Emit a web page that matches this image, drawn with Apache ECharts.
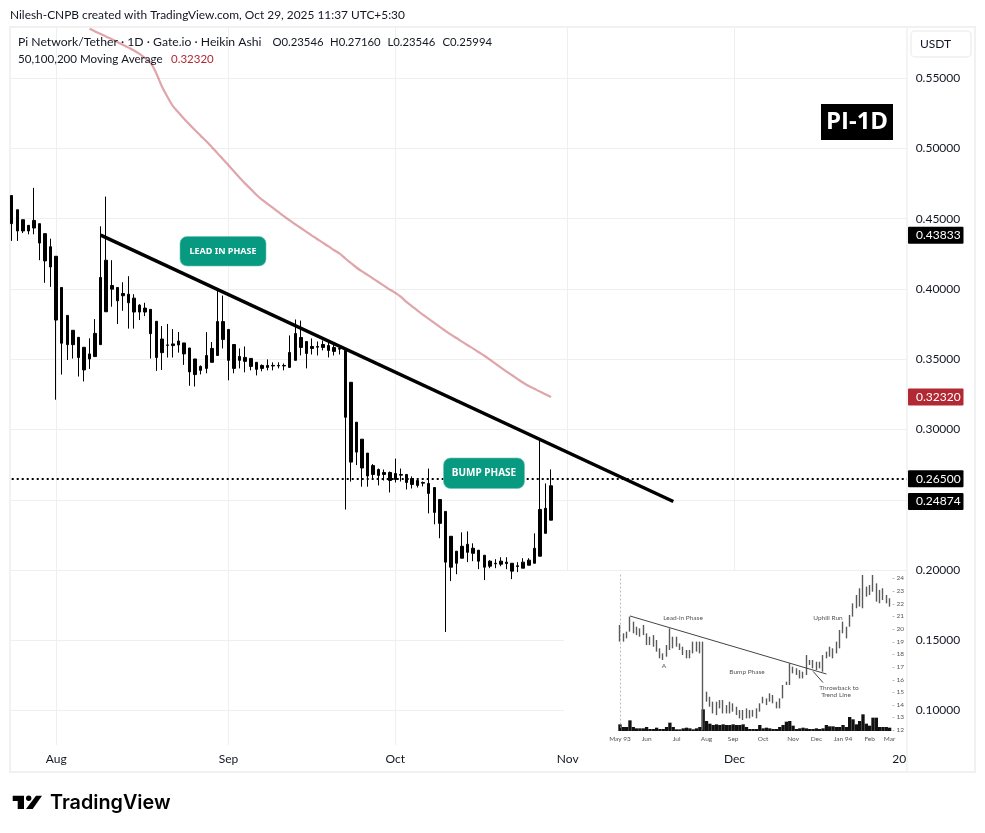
<html>
<head>
    <title></title>
    <meta charset="utf-8">
    <script src="https://cdn.jsdelivr.net/npm/echarts@6/dist/echarts.min.js" type="text/javascript"></script>
    <style>
        body { margin: 0; background: #fff; }
    </style>
</head>
<body>
    <div id="main" style="width: 985px; height: 833px"></div>
    <script>
        // daily Heikin Ashi candles, Jul 24 to Oct 29
        var candleOpen = [
            .4665, .4564, .4493, .4453, .4488, .4465, .4394, .4301, .4233, .4011,
            .3812, .3706, .3656, .3585, .3538, .3684, .4082, .4205, .4025, .4011,
            .3968, .3963, .3935, .3885, .3864, .3855, .3770, .3644, .3602, .3609,
            .3630, .3616, .3580, .3502, .3449, .3527, .3577, .3768, .3768, .3712,
            .3605, .3520, .3513, .3506, .3478, .3456, .3456, .3456, .3456, .3456,
            .3548, .3683, .3655, .3626, .3591, .3591, .3605, .3598, .3584, .3577,
            .3563, .3336, .3052, .2931, .2832, .2743, .2715, .2694, .2694, .2687,
            .2680, .2680, .2651, .2637, .2623, .2616, .2587, .2502, .2417, .2240,
            .2134, .2169, .2183, .2155, .2141, .2105, .2063, .2048, .2063, .2056,
            .2048, .2030, .2056, .2070, .2155, .2431, .2439, .23546
        ];
        var candleClose = [
            .4465, .4413, .4413, .4413, .4434, .4327, .4200, .4157, .3779, .3614,
            .3604, .3604, .3512, .3424, .3502, .3519, .3604, .3838, .3999, .3916,
            .3952, .3902, .3836, .3836, .3836, .3682, .3512, .3547, .3599, .3597,
            .3602, .3538, .3410, .3391, .3421, .3435, .3478, .3527, .3641, .3492,
            .3435, .3492, .3485, .3449, .3428, .3435, .3442, .3452, .3452, .3452,
            .3442, .3492, .3584, .3541, .3577, .3586, .3584, .3563, .3556, .3572,
            .3087, .2768, .2839, .2726, .2669, .2680, .2673, .2680, .2637, .2644,
            .2675, .2623, .2609, .2602, .2618, .2545, .2410, .2332, .2056, .2020,
            .2048, .2084, .2126, .2119, .2063, .2020, .2027, .2044, .2041, .2046,
            .1992, .2025, .2013, .2034, .2048, .2098, .2261, .25994
        ];
        var candleLow = [
            .4342, .4342, .4398, .4389, .4389, .4205, .4044, .4015, .3212, .3391,
            .3495, .3505, .3377, .3342, .3431, .3519, .3604, .3838, .3874, .3751,
            .3845, .3718, .3718, .3779, .3807, .3505, .3417, .3424, .3512, .3512,
            .3547, .3460, .3311, .3306, .3392, .3400, .3478, .3527, .3577, .3350,
            .3400, .3435, .3407, .3421, .3385, .3414, .3421, .3421, .3435, .3421,
            .3442, .3492, .3527, .3435, .3534, .3527, .3563, .3513, .3527, .3534,
            .2430, .2629, .2747, .2593, .2593, .2648, .2602, .2637, .2552, .2623,
            .2630, .2573, .2580, .2587, .2595, .2403, .2325, .2226, .1559, .1921,
            .1970, .2084, .2056, .2063, .2006, .1928, .2013, .2013, .2027, .2006,
            .1935, .1985, .2013, .2034, .2048, .2098, .2261, .23546
        ];
        var candleHigh = [
            .4665, .4564, .4493, .4453, .4720, .4465, .4394, .4358, .4233, .4011,
            .3812, .3706, .3656, .3585, .3649, .3786, .4446, .4658, .4205, .4011,
            .4048, .4091, .3963, .3892, .3902, .3855, .3770, .3736, .3751, .3715,
            .3694, .3616, .3580, .3502, .3456, .3693, .3622, .3995, .3953, .3712,
            .3605, .3577, .3591, .3506, .3478, .3463, .3499, .3478, .3478, .3470,
            .3669, .3783, .3775, .3626, .3648, .3626, .3634, .3626, .3605, .3591,
            .3577, .3336, .3052, .2931, .2832, .2754, .2722, .2715, .2701, .2793,
            .2722, .2680, .2666, .2644, .2630, .2722, .2587, .2502, .2417, .2240,
            .2134, .2268, .2275, .2190, .2141, .2105, .2070, .2077, .2091, .2091,
            .2048, .2056, .2084, .2084, .2261, .2921, .2616, .27160
        ];
        // moving average, only the part that is inside the frame (from the 15th candle)
        var maValues = [
            .5852, .5833, .5815, .5796, .5778, .5758, .5738, .5718, .5698, .5673,
            .5643, .5609, .5536, .5443, .5368, .5301, .5256, .5211, .5170, .5130,
            .5090, .5051, .5009, .4967, .4923, .4880, .4836, .4792, .4750, .4711,
            .4671, .4636, .4606, .4577, .4547, .4517, .4488, .4461, .4434, .4407,
            .4380, .4354, .4328, .4303, .4276, .4251, .4217, .4185, .4153, .4125,
            .4100, .4074, .4048, .4022, .3996, .3972, .3944, .3908, .3877, .3846,
            .3815, .3787, .3759, .3731, .3702, .3675, .3651, .3625, .3600, .3576,
            .3550, .3525, .3497, .3469, .3440, .3412, .3386, .3359, .3333, .3310,
            .3290, .3270, .3251, .3232
        ];
        var trendStart = 0.43833;
        var trendEnd = 0.24874;
        var levelLine = 0.265;
        var priceTicks = [0.10, 0.15, 0.20, 0.25, 0.30, 0.35, 0.40, 0.45, 0.50, 0.55];
        var priceLabels = [0.10, 0.15, 0.20, 0.30, 0.35, 0.40, 0.45, 0.50, 0.55];
        var monthIdx = [8, 39, 69, 100, 130];
        var timeIdx = [8, 39, 69, 100, 130, 160];
        var timeLabels = ['Aug', 'Sep', 'Oct', 'Nov', 'Dec', '{last|20}'];
        var tagValues = [0.43833, 0.32320, 0.26500, 0.24874];
        var tagColors = ['#000', '#b22833', '#000', '#000'];

        // small picture of the textbook pattern
        var insetHigh = [
            20.31, 19.65, 19.78, 20.97, 20.57, 20.17, 20.04, 20.31, 19.65, 19.38,
            19.51, 19.12, 18.46, 18.06, 18.72, 20.04, 19.38, 19.38, 18.85, 18.59,
            18.33, 18.33, 18.99, 18.99, 18.99, 18.99, 15.03, 14.63, 14.24, 14.24,
            14.37, 14.37, 13.97, 14.24, 14.11, 13.84, 13.58, 13.58, 13.71, 13.58,
            13.58, 13.71, 14.11, 14.63, 14.50, 14.90, 14.77, 14.24, 14.50, 15.56,
            15.82, 17.27, 17.01, 16.88, 16.74, 16.61, 17.93, 17.54, 17.54, 17.40,
            17.40, 17.93, 18.20, 18.59, 18.46, 18.99, 19.91, 20.57, 20.17, 21.10,
            22.02, 22.68, 23.21, 24.26, 23.34, 23.47, 24.26, 23.60, 23.08, 23.21,
            22.68, 22.42
        ];
        var insetLow = [
            18.99, 18.99, 19.25, 19.78, 19.65, 19.51, 19.38, 19.51, 18.72, 18.72,
            18.59, 18.20, 17.67, 17.54, 17.80, 18.33, 18.46, 18.59, 18.33, 17.93,
            17.67, 17.67, 18.06, 18.20, 18.06, 12.00, 14.24, 13.84, 13.31, 13.18,
            13.71, 13.31, 13.31, 13.31, 13.45, 13.18, 12.92, 12.79, 12.92, 12.92,
            13.05, 12.92, 13.45, 14.11, 13.97, 14.24, 14.11, 13.71, 13.71, 14.50,
            15.56, 15.56, 16.48, 16.35, 16.08, 16.08, 16.35, 17.14, 16.88, 16.74,
            16.88, 16.61, 17.67, 17.80, 17.67, 18.06, 18.46, 19.65, 19.25, 20.17,
            20.97, 21.63, 21.76, 21.63, 22.55, 22.68, 22.94, 22.15, 22.02, 22.28,
            22.02, 21.76
        ];
        var insetVolume = [
            20, 12, 12, 32, 12, 8, 8, 8, 12, 6,
            6, 10, 6, 6, 12, 25, 12, 5, 5, 8,
            10, 8, 5, 8, 12, 65, 30, 22, 18, 20,
            18, 20, 18, 18, 20, 18, 18, 20, 12, 6,
            6, 6, 18, 8, 10, 8, 6, 6, 12, 18,
            28, 30, 16, 6, 8, 10, 8, 6, 6, 8,
            6, 8, 18, 14, 14, 12, 12, 18, 12, 42,
            35, 20, 30, 50, 22, 16, 40, 40, 12, 12,
            12, 10
        ];
        var insetMonthIdx = [0, 8, 17, 26, 34, 43, 52, 59, 67, 75, 81];
        var insetMonths = ['May 93', 'Jun', 'Jul', 'Aug', 'Sep', 'Oct', 'Nov', 'Dec', 'Jan 94', 'Feb', 'Mar'];

        var font = 'Lato, "Noto Sans", sans-serif';
        var ink = '#131722';

        window.onload = function () {
            var myChart = echarts.init(document.getElementById('main'));

            var dates = [];
            for (var i = 0; i < 162; i++) {
                var d = new Date(Date.UTC(2025, 6, 24 + i));
                dates.push(d.toISOString().slice(0, 10));
            }
            var candles = [];
            for (var i = 0; i < candleOpen.length; i++) {
                candles.push([candleOpen[i], candleClose[i], candleLow[i], candleHigh[i]]);
            }
            var ma = [];
            for (var i = 0; i < 14; i++) ma.push('-');
            ma = ma.concat(maValues);

            var insetCats = [], insetBars = [];
            for (var i = 0; i < insetHigh.length; i++) {
                insetCats.push(String(i));
                insetBars.push([insetHigh[i], insetLow[i], insetLow[i], insetHigh[i]]);
            }

            var option = {
                animation: false,
                backgroundColor: '#fff',
                textStyle: { fontFamily: font },
                grid: [
                    { left: 8.92, top: 27, width: 900.72, height: 718 },
                    { left: 618.3, top: 565.66, width: 273, height: 164.34 },
                    { left: 618.3, top: 707, width: 273, height: 24 }
                ],
                xAxis: [
                    {
                        type: 'category',
                        gridIndex: 0,
                        data: dates,
                        axisLine: { show: false },
                        axisTick: { show: false },
                        axisLabel: {
                            color: ink,
                            fontSize: 12,
                            margin: 8,
                            rich: { last: { color: ink, fontSize: 12, padding: [0, 4, 0, 0] } },
                            interval: function (i) { return timeIdx.indexOf(i) >= 0; },
                            formatter: function (v, i) { return timeLabels[timeIdx.indexOf(i)] || ''; }
                        },
                        splitLine: {
                            show: true,
                            alignWithLabel: true,
                            interval: function (i) { return monthIdx.indexOf(i) >= 0; },
                            lineStyle: { color: '#efefef', width: 1 }
                        }
                    },
                    {
                        type: 'category',
                        gridIndex: 1,
                        z: 3,
                        data: insetCats,
                        axisLine: { show: false },
                        axisTick: { show: false },
                        splitLine: { show: false },
                        axisLabel: {
                            color: '#555',
                            fontSize: 6.5,
                            margin: 5,
                            interval: function (i) { return insetMonthIdx.indexOf(i) >= 0; },
                            formatter: function (v, i) { return insetMonths[insetMonthIdx.indexOf(i)] || ''; }
                        }
                    },
                    {
                        type: 'category',
                        gridIndex: 2,
                        data: insetCats,
                        axisLine: { show: false },
                        axisTick: { show: false },
                        axisLabel: { show: false },
                        splitLine: { show: false }
                    }
                ],
                yAxis: [
                    {
                        type: 'value',
                        gridIndex: 0,
                        position: 'right',
                        min: 0.07545,
                        max: 0.58647,
                        axisLine: { show: false },
                        axisTick: { show: false, customValues: priceTicks },
                        axisLabel: {
                            customValues: priceLabels,
                            color: ink,
                            fontSize: 12,
                            margin: 6,
                            formatter: function (v) { return v.toFixed(5); }
                        },
                        splitLine: { show: true, lineStyle: { color: '#efefef', width: 1 } }
                    },
                    {
                        type: 'value',
                        gridIndex: 1,
                        position: 'right',
                        z: 3,
                        min: 12,
                        max: 25,
                        interval: 1,
                        axisLine: { show: false },
                        axisTick: { show: false },
                        splitLine: { show: false },
                        axisLabel: {
                            color: '#555',
                            fontSize: 6.5,
                            margin: 1,
                            showMaxLabel: false,
                            formatter: function (v) { return '- ' + v; }
                        }
                    },
                    {
                        type: 'value',
                        gridIndex: 2,
                        min: 0,
                        max: 72,
                        axisLine: { show: false },
                        axisTick: { show: false },
                        axisLabel: { show: false },
                        splitLine: { show: false }
                    }
                ],
                series: [
                    {
                        name: 'PI',
                        type: 'candlestick',
                        xAxisIndex: 0,
                        yAxisIndex: 0,
                        z: 2,
                        barWidth: 3,
                        data: candles,
                        itemStyle: { color: '#000', color0: '#000', borderColor: '#000', borderColor0: '#000', borderWidth: 1 },
                        markLine: {
                            silent: true,
                            symbol: 'none',
                            animation: false,
                            label: { show: false },
                            data: [
                                [
                                    { coord: [dates[16], trendStart], lineStyle: { color: '#000', width: 3.5, type: 'solid' } },
                                    { coord: [dates[119], trendEnd] }
                                ],
                                [
                                    { coord: [dates[0], levelLine], lineStyle: { color: '#000', width: 2, type: [2, 3] } },
                                    { coord: [dates[161], levelLine] }
                                ]
                            ]
                        }
                    },
                    {
                        name: 'MA',
                        type: 'line',
                        xAxisIndex: 0,
                        yAxisIndex: 0,
                        z: 2,
                        symbol: 'none',
                        smooth: 0.3,
                        data: ma,
                        lineStyle: { color: 'rgba(178,40,51,0.42)', width: 2.2 }
                    },
                    {
                        name: 'inset price',
                        type: 'candlestick',
                        xAxisIndex: 1,
                        yAxisIndex: 1,
                        z: 3,
                        barWidth: 1,
                        data: insetBars,
                        itemStyle: { color: '#5a5a5a', color0: '#5a5a5a', borderColor: '#5a5a5a', borderColor0: '#5a5a5a', borderWidth: 1.4 },
                        markLine: {
                            silent: true,
                            symbol: 'none',
                            animation: false,
                            label: { show: false },
                            data: [
                                [
                                    { coord: ['3', 21.02], lineStyle: { color: '#444', width: 1, type: 'solid' } },
                                    { coord: ['62', 16.43] }
                                ],
                                [
                                    { coord: ['58', 16.64], lineStyle: { color: '#444', width: 1, type: 'solid' } },
                                    { coord: ['61', 15.75] }
                                ],
                                [
                                    { coord: ['0', 24.3], lineStyle: { color: '#bbb', width: 1, type: [2, 2] } },
                                    { coord: ['0', 12.2] }
                                ]
                            ]
                        }
                    },
                    {
                        name: 'inset volume',
                        type: 'bar',
                        xAxisIndex: 2,
                        yAxisIndex: 2,
                        z: 3,
                        barCategoryGap: 0,
                        data: insetVolume,
                        itemStyle: { color: '#111' }
                    }
                ]
            };
            myChart.setOption(option);

            var elements = [
                // trims and the frame round the panes
                { type: 'rect', z: 1, silent: true, shape: { x: 0, y: 27, width: 10, height: 718 }, style: { fill: '#fff' } },
                { type: 'rect', z: 1, silent: true, shape: { x: 907, y: 27, width: 4, height: 718 }, style: { fill: '#fff' } },
                { type: 'rect', z: 1, silent: true, shape: { x: 564, y: 571, width: 343, height: 174 }, style: { fill: '#fff' } },
                { type: 'rect', z: 1, silent: true, shape: { x: 10, y: 27, width: 965, height: 745 }, style: { fill: 'none', stroke: '#f1f1f1', lineWidth: 2 } },
                { type: 'line', z: 1, silent: true, shape: { x1: 907, y1: 27, x2: 907, y2: 772 }, style: { stroke: '#f1f1f1', lineWidth: 1.5 } },

                text(10, 15, 'Nilesh-CNPB created with TradingView.com, Oct 29, 2025 11:37 UTC+5:30', ink, 11.9),
                text(18, 42, 'Pi Network/Tether · 1D · Gate.io · Heikin Ashi', ink, 12.2),
                text(272.5, 42, 'O0.23546', ink, 11.3),
                text(330, 42, 'H0.27160', ink, 11.3),
                text(387.5, 42, 'L0.23546', ink, 11.3),
                text(442.5, 42, 'C0.25994', ink, 11.3),
                text(18, 59, '50,100,200 Moving Average', ink, 11.6),
                text(171, 59, '0.32320', '#b22833', 11.5),

                { type: 'rect', z: 10, silent: true, shape: { x: 911, y: 31, width: 60, height: 26, r: 4 }, style: { fill: '#fff', stroke: '#f0f0f0', lineWidth: 1.5 } },
                text(920, 44.5, 'USDT', ink, 12),

                { type: 'rect', z: 10, silent: true, shape: { x: 821, y: 104, width: 72, height: 36 }, style: { fill: '#000' } },
                {
                    type: 'text', z: 11, silent: true, x: 857, y: 122.5,
                    style: { text: 'PI-1D', fill: '#fff', font: 'bold 24px "Open Sans", sans-serif', align: 'center', verticalAlign: 'middle' }
                },

                { type: 'rect', z: 10, silent: true, shape: { x: 180, y: 236.5, width: 86, height: 29.5, r: 7 }, style: { fill: '#089981', stroke: '#6cc4b4', lineWidth: 0.6 } },
                {
                    type: 'text', z: 11, silent: true, x: 223, y: 251,
                    style: { text: 'LEAD IN PHASE', fill: '#fff', font: 'bold 9px "Noto Sans", sans-serif', align: 'center', verticalAlign: 'middle' }
                },
                { type: 'rect', z: 10, silent: true, shape: { x: 443.5, y: 458, width: 81, height: 30.5, r: 7 }, style: { fill: '#089981', stroke: '#6cc4b4', lineWidth: 0.6 } },
                {
                    type: 'text', z: 11, silent: true, x: 484, y: 473,
                    style: { text: 'BUMP PHASE', fill: '#fff', font: 'bold 10px "Noto Sans", sans-serif', align: 'center', verticalAlign: 'middle' }
                },

                small(683, 618, 'Lead-in Phase'),
                small(664, 666, 'A'),
                small(747, 672, 'Bump Phase'),
                small(828, 618, 'Uphill Run'),
                small(839, 688, 'Throwback to'),
                small(836, 694.5, 'Trend Line'),

                // TradingView mark
                { type: 'polygon', z: 10, silent: true, shape: { points: [[12.7, 795.7], [24, 795.7], [24, 809], [17.7, 809], [17.7, 801], [12.7, 801]] }, style: { fill: '#000' } },
                { type: 'circle', z: 10, silent: true, shape: { cx: 28.7, cy: 798.3, r: 2.7 }, style: { fill: '#000' } },
                { type: 'polygon', z: 10, silent: true, shape: { points: [[36, 795.7], [42, 795.7], [32.7, 809], [26, 809]] }, style: { fill: '#000' } },
                {
                    type: 'text', z: 10, silent: true, x: 50, y: 803,
                    style: { text: 'TradingView', fill: '#000', font: '600 19.8px Inter, sans-serif', verticalAlign: 'middle' }
                }
            ];

            for (var i = 0; i < tagValues.length; i++) {
                var y = myChart.convertToPixel({ yAxisIndex: 0 }, tagValues[i]);
                elements.push({ type: 'rect', z: 10, silent: true, shape: { x: 908, y: y - 8.5, width: 55.5, height: 17, r: 1 }, style: { fill: tagColors[i] } });
                elements.push(text(916, y, tagValues[i].toFixed(5), '#fff', 12));
            }

            myChart.setOption({ graphic: elements });

            function text(x, y, s, color, size) {
                return {
                    type: 'text', z: 11, silent: true, x: x, y: y,
                    style: { text: s, fill: color, font: size + 'px ' + font, verticalAlign: 'middle' }
                };
            }
            function small(x, y, s) {
                return {
                    type: 'text', z: 11, silent: true, x: x, y: y,
                    style: { text: s, fill: '#555', font: '6.5px ' + font, align: 'center', verticalAlign: 'middle' }
                };
            }
        }
    </script>
</body>
</html>
